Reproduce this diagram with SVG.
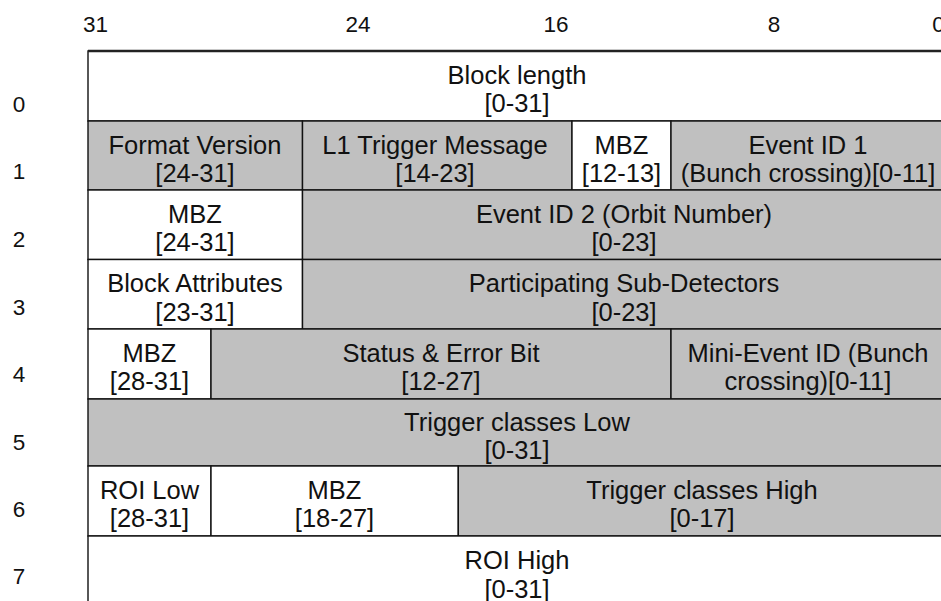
<svg xmlns="http://www.w3.org/2000/svg" width="941" height="601" viewBox="0 0 941 601">
<style>
.g{fill:#c0c0c0;stroke:#111;stroke-width:1.4}
.w{fill:#fff;stroke:#111;stroke-width:1.4}
text{font-family:"Liberation Sans",Arial,Helvetica,sans-serif;fill:#111}
.t{font-size:25.5px;text-anchor:middle}
.h{font-size:22.5px;text-anchor:middle}
</style>
<rect width="941" height="601" fill="#fff"/>
<g id="axis">
<text class="h" x="95.5" y="31.7">31</text>
<text class="h" x="358" y="31.7">24</text>
<text class="h" x="556" y="31.7">16</text>
<text class="h" x="774" y="31.7">8</text>
<text class="h" x="938.5" y="31.7">0</text>
<text class="h" x="19" y="111.7">0</text>
<text class="h" x="19" y="179">1</text>
<text class="h" x="19" y="247">2</text>
<text class="h" x="19" y="314.5">3</text>
<text class="h" x="19" y="382">4</text>
<text class="h" x="19" y="449.5">5</text>
<text class="h" x="19" y="517">6</text>
<text class="h" x="19" y="584">7</text>
</g>
<g id="row0">
<g id="block-length"><rect class="w" x="88" y="51" width="858" height="70"/><text class="t" x="517" y="83.5">Block length</text><text class="t" x="517" y="112">[0-31]</text></g>
</g>
<g id="row1">
<g id="format-version"><rect class="g" x="88" y="121" width="214.5" height="69"/><text class="t" x="195" y="153.5">Format Version</text><text class="t" x="195" y="182">[24-31]</text></g>
<g id="l1-trigger"><rect class="g" x="302.5" y="121" width="269.5" height="69"/><text class="t" x="435" y="153.5">L1 Trigger Message</text><text class="t" x="435" y="182">[14-23]</text></g>
<g id="mbz-1"><rect class="w" x="572" y="121" width="99" height="69"/><text class="t" x="621.5" y="153.5">MBZ</text><text class="t" x="621.5" y="182">[12-13]</text></g>
<g id="event-id-1"><rect class="g" x="671" y="121" width="275" height="69"/><text class="t" x="808" y="153.5">Event ID 1</text><text class="t" x="808" y="182">(Bunch crossing)[0-11]</text></g>
</g>
<g id="row2">
<g id="mbz-2"><rect class="w" x="88" y="190" width="214.5" height="69.5"/><text class="t" x="195" y="222.5">MBZ</text><text class="t" x="195" y="251">[24-31]</text></g>
<g id="event-id-2"><rect class="g" x="302.5" y="190" width="643.5" height="69.5"/><text class="t" x="624" y="222.5">Event ID 2 (Orbit Number)</text><text class="t" x="624" y="251">[0-23]</text></g>
</g>
<g id="row3">
<g id="block-attributes"><rect class="w" x="88" y="259.5" width="214.5" height="69.5"/><text class="t" x="195" y="292">Block Attributes</text><text class="t" x="195" y="320.5">[23-31]</text></g>
<g id="sub-detectors"><rect class="g" x="302.5" y="259.5" width="643.5" height="69.5"/><text class="t" x="624" y="292">Participating Sub-Detectors</text><text class="t" x="624" y="320.5">[0-23]</text></g>
</g>
<g id="row4">
<g id="mbz-4"><rect class="w" x="88" y="329" width="123" height="70"/><text class="t" x="149.5" y="361.5">MBZ</text><text class="t" x="149.5" y="390">[28-31]</text></g>
<g id="status-error"><rect class="g" x="211" y="329" width="460" height="70"/><text class="t" x="441" y="361.5">Status &amp; Error Bit</text><text class="t" x="441" y="390">[12-27]</text></g>
<g id="mini-event-id"><rect class="g" x="671" y="329" width="275" height="70"/><text class="t" x="808" y="361.5">Mini-Event ID (Bunch</text><text class="t" x="808" y="390">crossing)[0-11]</text></g>
</g>
<g id="row5">
<g id="trigger-low"><rect class="g" x="88" y="399" width="858" height="67"/><text class="t" x="517" y="430.5">Trigger classes Low</text><text class="t" x="517" y="459">[0-31]</text></g>
</g>
<g id="row6">
<g id="roi-low"><rect class="w" x="88" y="466" width="123" height="70"/><text class="t" x="149.5" y="498.5">ROI Low</text><text class="t" x="149.5" y="527">[28-31]</text></g>
<g id="mbz-6"><rect class="w" x="211" y="466" width="247.3" height="70"/><text class="t" x="334.5" y="498.5">MBZ</text><text class="t" x="334.5" y="527">[18-27]</text></g>
<g id="trigger-high"><rect class="g" x="458.3" y="466" width="487.7" height="70"/><text class="t" x="702" y="498.5">Trigger classes High</text><text class="t" x="702" y="527">[0-17]</text></g>
</g>
<g id="row7">
<g id="roi-high"><rect class="w" x="88" y="536" width="858" height="70"/><text class="t" x="517" y="569">ROI High</text><text class="t" x="517" y="597.5">[0-31]</text></g>
</g>
<g id="borders">
<line x1="88" y1="51" x2="941" y2="51" stroke="#222" stroke-width="2.4"/>
</g>
</svg>
